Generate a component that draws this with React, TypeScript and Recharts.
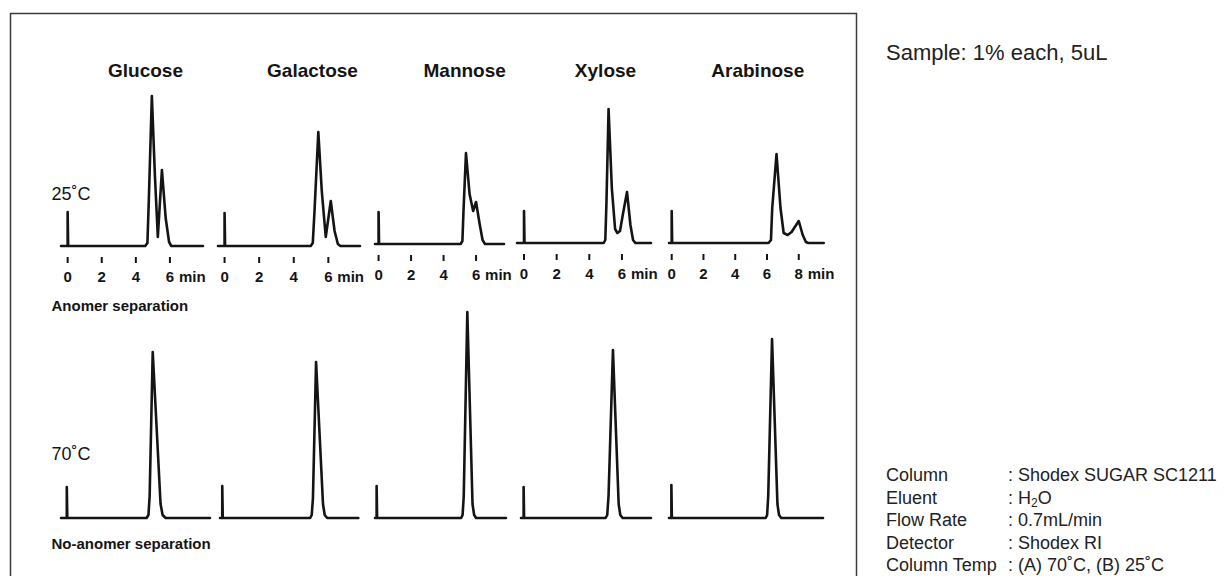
import React from 'react';
import { LineChart, Line, XAxis, YAxis } from 'recharts';

// ---- Data: retention time (min) and detector response (arbitrary units) ----
// 25°C (anomer separation)
const glucose25Time = [-0.39, 0, 0, 0.03, 4.55, 4.68, 4.76, 4.94, 5.12, 5.29, 5.53, 5.75, 5.95, 6.08, 7.94];
const glucose25Signal = [0, 0, 34, 0, 0, 3, 45, 150, 70, 9, 76, 28, 4, 0, 0];

const galactose25Time = [-0.38, 0, 0, 0.03, 4.98, 5.1, 5.2, 5.42, 5.62, 5.85, 6.14, 6.36, 6.55, 6.7, 7.83];
const galactose25Signal = [0, 0, 33, 0, 0, 3, 35, 114, 55, 9, 45, 15, 2, 0, 0];

const mannose25Time = [-0.22, 0, 0, 0.03, 5.05, 5.16, 5.22, 5.38, 5.6, 5.82, 6.0, 6.2, 6.4, 6.55, 7.72];
const mannose25Signal = [0, 0, 32, 0, 0, 3, 30, 91, 50, 33, 42, 22, 4, 0, 0];

const xylose25Time = [-0.43, 0, 0, 0.03, 4.88, 4.98, 5.05, 5.18, 5.38, 5.58, 5.72, 5.88, 6.05, 6.31, 6.52, 6.68, 6.82, 7.78];
const xylose25Signal = [0, 0, 32, 0, 0, 3, 40, 134, 55, 14, 10, 12, 28, 51, 18, 3, 0, 0];

const arabinose25Time = [-0.17, 0, 0, 0.03, 6.1, 6.25, 6.33, 6.6, 6.85, 7.05, 7.3, 7.55, 8.0, 8.25, 8.45, 8.6, 9.57];
const arabinose25Signal = [0, 0, 32, 0, 0, 3, 35, 89, 35, 10, 8, 11, 22, 8, 1, 0, 0];

// 70°C (no anomer separation)
const glucose70Time = [-0.34, 0, 0, 0.03, 4.68, 4.79, 4.86, 5.04, 5.5, 5.62, 5.8, 8.4];
const glucose70Signal = [0, 0, 31, 0, 0, 3, 22, 166, 14, 3, 0, 0];

const galactose70Time = [-0.13, 0, 0, 0.03, 5.08, 5.17, 5.24, 5.42, 5.82, 5.92, 6.06, 7.86];
const galactose70Signal = [0, 0, 32, 0, 0, 3, 20, 156, 14, 3, 0, 0];

const mannose70Time = [-0.1, 0, 0, 0.03, 5.2, 5.29, 5.36, 5.58, 5.9, 6.0, 6.12, 7.96];
const mannose70Signal = [0, 0, 32, 0, 0, 3, 22, 206, 14, 3, 0, 0];

const xylose70Time = [-0.16, 0, 0, 0.03, 5.02, 5.12, 5.2, 5.47, 5.82, 5.92, 6.06, 7.8];
const xylose70Signal = [0, 0, 31, 0, 0, 3, 22, 168, 14, 3, 0, 0];

const arabinose70Time = [-0.15, 0, 0, 0.03, 5.94, 6.03, 6.1, 6.34, 6.68, 6.78, 6.92, 9.55];
const arabinose70Signal = [0, 0, 33, 0, 0, 3, 22, 179, 14, 3, 0, 0];

const sugarNames = ['Glucose', 'Galactose', 'Mannose', 'Xylose', 'Arabinose'];
const minuteTicks6 = [0, 2, 4, 6];
const minuteTicks8 = [0, 2, 4, 6, 8];

const conditionLabels = ['Column', 'Eluent', 'Flow Rate', 'Detector', 'Column Temp'];
const conditionValues = [': Shodex SUGAR SC1211', ': H2O', ': 0.7mL/min', ': Shodex RI', ': (A) 70˚C, (B) 25˚C'];

// ---- Layout ----
const FONT = "'Liberation Sans', Arial, Helvetica, sans-serif";
const INK = '#141414';

const topPanels = [
  { time: glucose25Time, signal: glucose25Signal, ticks: minuteTicks6, left: 61, width: 142, baseline: 246 },
  { time: galactose25Time, signal: galactose25Signal, ticks: minuteTicks6, left: 218, width: 142, baseline: 246 },
  { time: mannose25Time, signal: mannose25Signal, ticks: minuteTicks6, left: 375, width: 129, baseline: 244 },
  { time: xylose25Time, signal: xylose25Signal, ticks: minuteTicks6, left: 516.7, width: 134, baseline: 243.3 },
  { time: arabinose25Time, signal: arabinose25Signal, ticks: minuteTicks8, left: 669.3, width: 154.7, baseline: 242.7 },
];

const bottomPanels = [
  { time: glucose70Time, signal: glucose70Signal, left: 61, width: 149, baseline: 517.7 },
  { time: galactose70Time, signal: galactose70Signal, left: 220, width: 138.3, baseline: 517.7 },
  { time: mannose70Time, signal: mannose70Signal, left: 375, width: 131, baseline: 517.7 },
  { time: xylose70Time, signal: xylose70Signal, left: 520.7, width: 130, baseline: 517.7 },
  { time: arabinose70Time, signal: arabinose70Signal, left: 669.3, width: 154, baseline: 517.7 },
];

const titleCenters = [145.5, 312.5, 464.7, 605.5, 757.8];

const MinuteTick = (props: any) => {
  const { x, y, payload, lastValue } = props;
  const isLast = payload.value === lastValue;
  return (
    <g>
      <line x1={x} x2={x} y1={y + 11} y2={y + 17} stroke={INK} strokeWidth={2} />
      <text x={x} y={y + 36} textAnchor="middle" fontFamily={FONT} fontWeight="bold" fontSize={15} fill={INK}>
        {payload.value}
      </text>
      {isLast && (
        <text x={x + 9} y={y + 36} textAnchor="start" fontFamily={FONT} fontWeight="bold" fontSize={15} fill={INK}>
          min
        </text>
      )}
    </g>
  );
};

function Trace(props: any) {
  const { time, signal, ticks, left, width, baseline, plotH, yMax } = props;
  const data = time.map((t: number, i: number) => ({ t, v: signal[i] }));
  const showAxis = !!ticks;
  const pad = 4;
  const rightM = 45;
  const axisH = showAxis ? 45 : 0;
  const bottomM = showAxis ? 0 : 6;
  const lastValue = ticks ? ticks[ticks.length - 1] : null;
  return (
    <div style={{ position: 'absolute', left: left - pad, top: baseline - plotH }}>
      <LineChart
        width={width + pad + rightM}
        height={plotH + axisH + bottomM}
        data={data}
        margin={{ top: 0, right: rightM, bottom: bottomM, left: pad }}
      >
        <XAxis
          type="number"
          dataKey="t"
          domain={[time[0], time[time.length - 1]]}
          ticks={ticks || []}
          interval={0}
          hide={!showAxis}
          height={axisH || 1}
          axisLine={false}
          tickLine={false}
          tickSize={0}
          tickMargin={0}
          tick={(p: any) => <MinuteTick {...p} lastValue={lastValue} />}
        />
        <YAxis hide domain={[0, yMax]} />
        <Line
          dataKey="v"
          type="linear"
          stroke={INK}
          strokeWidth={2.6}
          strokeLinejoin="round"
          strokeLinecap="round"
          dot={false}
          activeDot={false}
          isAnimationActive={false}
        />
      </LineChart>
    </div>
  );
}

export default function App() {
  return (
    <div
      style={{
        position: 'absolute',
        left: 0,
        top: 0,
        width: 1225,
        height: 576,
        overflow: 'hidden',
        background: '#fff',
        fontFamily: FONT,
      }}
    >
      <svg width={1225} height={576} style={{ position: 'absolute', left: 0, top: 0 }}>
        <rect x={10.5} y={13.5} width={846} height={620} fill="none" stroke="#3a3a3a" strokeWidth={1.5} />
        {sugarNames.map((name, i) => (
          <text key={name} x={titleCenters[i]} y={76.7} textAnchor="middle" fontFamily={FONT} fontWeight="bold" fontSize={19} fill={INK}>
            {name}
          </text>
        ))}
        <text x={51.5} y={199.5} fontFamily={FONT} fontSize={18} fill={INK}>25˚C</text>
        <text x={51.5} y={459.7} fontFamily={FONT} fontSize={18} fill={INK}>70˚C</text>
        <text x={51.5} y={310.5} fontFamily={FONT} fontWeight="bold" fontSize={15} fill={INK}>Anomer separation</text>
        <text x={51.5} y={548.7} fontFamily={FONT} fontWeight="bold" fontSize={15} fill={INK}>No-anomer separation</text>
        <text x={886} y={59.5} fontFamily={FONT} fontSize={22} fill="#222">Sample: 1% each, 5uL</text>
        {conditionLabels.map((label, i) => (
          <g key={label}>
            <text x={886} y={481 + i * 22.5} fontFamily={FONT} fontSize={18} fill="#222">{label}</text>
            <text x={1008} y={481 + i * 22.5} fontFamily={FONT} fontSize={18} fill="#222">
              {conditionValues[i] === ': H2O' ? (
                <>
                  {': H'}
                  <tspan fontSize={12} dy={3}>2</tspan>
                  <tspan dy={-3}>O</tspan>
                </>
              ) : (
                conditionValues[i]
              )}
            </text>
          </g>
        ))}
      </svg>
      {topPanels.map((p, i) => (
        <Trace key={'t' + i} {...p} plotH={170} yMax={170} />
      ))}
      {bottomPanels.map((p, i) => (
        <Trace key={'b' + i} {...p} plotH={215} yMax={215} />
      ))}
    </div>
  );
}
